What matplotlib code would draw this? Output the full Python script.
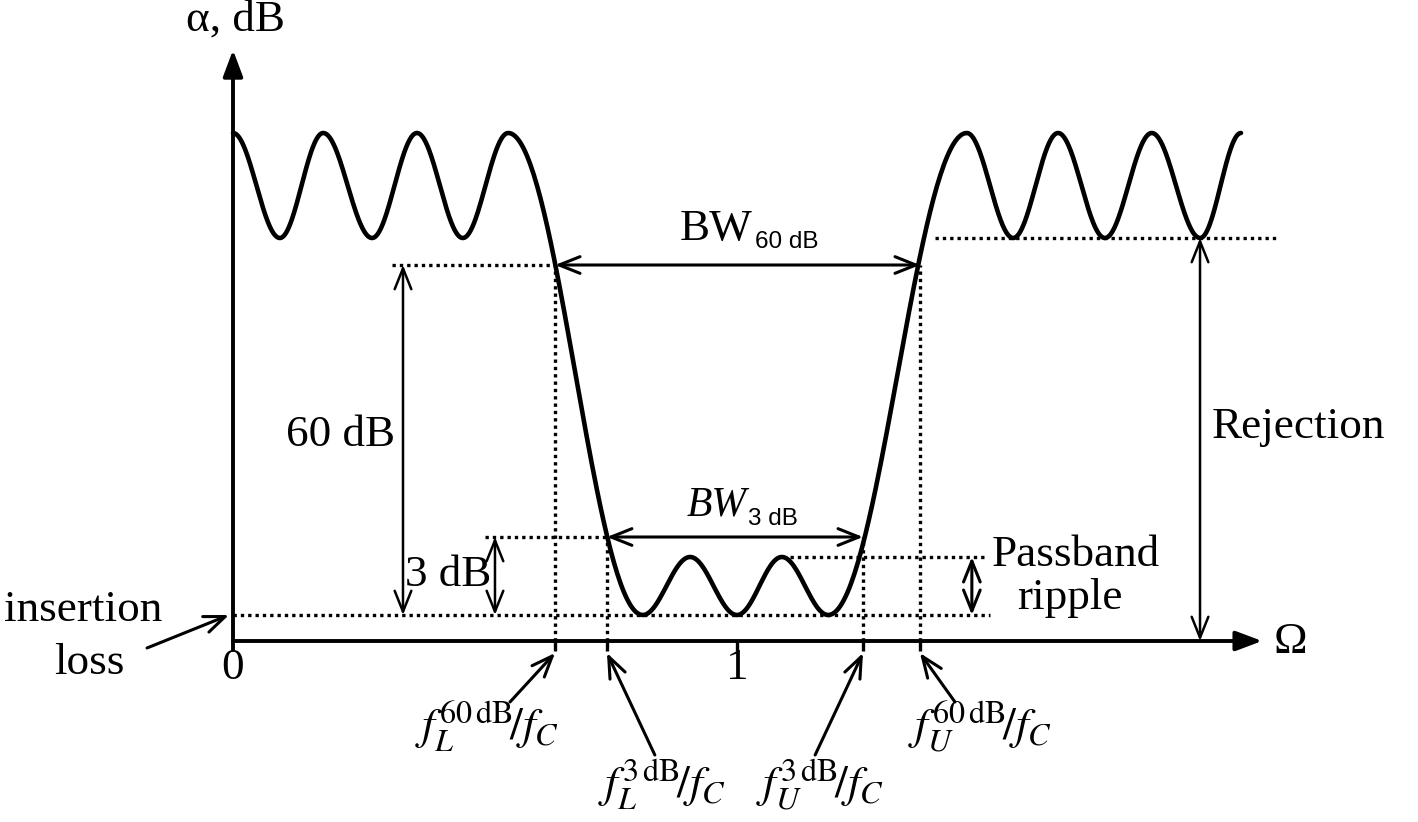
"""
Schematic band-pass filter attenuation response with its bandwidth annotations.
"""

import matplotlib
matplotlib.use("Agg")
import matplotlib.pyplot as plt
import numpy as np

# Extrema of the attenuation curve (Omega = f/fc, alpha in schematic units)
EXT_OMEGA = [0.0, 0.093, 0.179, 0.276, 0.365, 0.456, 0.546,
             0.813, 0.907, 1.0, 1.089, 1.181,
             1.456, 1.548, 1.637, 1.730, 1.823, 1.919, 2.0]
EXT_ALPHA = [50.8, 40.3, 50.8, 40.3, 50.8, 40.3, 50.8,
             2.6, 8.4, 2.6, 8.4, 2.6,
             50.8, 40.3, 50.8, 40.3, 50.8, 40.3, 50.8]

# Characteristic levels
IL = 2.6            # insertion loss
RIPPLE_TOP = 8.4
LVL_3DB = 10.4
LVL_60DB = 37.6
REJ_MIN = 40.3

# Characteristic frequencies
F_L60 = 0.639
F_L3 = 0.742
F_U3 = 1.250
F_U60 = 1.363
TICKS = [F_L60, F_L3, 1.0, F_U3, F_U60]

FREQ_LABELS = [
    r"$f_L^{\mathrm{60\,dB}}\!/f_C$",
    r"$f_L^{\mathrm{3\,dB}}\!/f_C$",
    r"$f_U^{\mathrm{3\,dB}}\!/f_C$",
    r"$f_U^{\mathrm{60\,dB}}\!/f_C$",
]

FS = 32.5
SANS = ["Liberation Sans", "DejaVu Sans"]
DOT = dict(color="black", lw=2.4, linestyle=(0, (1.0, 1.2)))
DIM = "<->,head_length=0.75,head_width=0.3"
ONE = "->,head_length=0.75,head_width=0.3"


def curve(xs, ys, n=80):
    """
    Smooth curve passing through the extrema with zero slope at each one.
    """
    px, py = [], []
    for x0, y0, x1, y1 in zip(xs, ys, xs[1:], ys[1:]):
        t = np.linspace(0, 1, n)
        px.append(x0 + (x1 - x0) * t)
        py.append(y0 + (y1 - y0) * (1 - np.cos(np.pi * t)) / 2)
    return np.concatenate(px), np.concatenate(py)


def arrow(ax, start, end, style, lw=1.8):
    ax.annotate("", xy=end, xytext=start,
                arrowprops=dict(arrowstyle=style, color="black", lw=lw,
                                shrinkA=0, shrinkB=0, mutation_scale=20))


def main() -> None:
    plt.rcParams.update({
        "font.family": ["Liberation Serif", "DejaVu Serif"],
        "mathtext.fontset": "stix",
        "font.size": FS,
    })
    fig = plt.figure(figsize=(14.18, 8.22), dpi=100)
    ax = fig.add_axes([0, 0, 1, 1])
    ax.set_xlim(-0.4623, 2.3512)
    ax.set_ylim(-18.1, 64.1)
    ax.axis("off")

    # Axes with arrows
    arrow(ax, (0, -0.9), (0, 59.1), "-|>,head_length=0.8,head_width=0.3", lw=2.8)
    arrow(ax, (0, 0), (2.042, 0), "-|>,head_length=0.8,head_width=0.3", lw=2.8)
    ax.vlines(TICKS, -1.0, 0, color="black", lw=2.4)

    # Attenuation curve
    x, y = curve(EXT_OMEGA, EXT_ALPHA)
    ax.plot(x, y, color="black", lw=3.3, solid_capstyle="round", zorder=3)

    # Dotted guides
    ax.hlines(IL, 0, 1.502, **DOT)
    ax.hlines(LVL_60DB, 0.3155, F_L60, **DOT)
    ax.hlines(LVL_3DB, 0.500, F_L3, **DOT)
    ax.hlines(RIPPLE_TOP, 1.105, 1.496, **DOT)
    ax.hlines(REJ_MIN, 1.393, 2.071, **DOT)
    ax.vlines([F_L60, F_U60], 0, LVL_60DB, **DOT)
    ax.vlines([F_L3, F_U3], 0, LVL_3DB, **DOT)

    # Dimension arrows
    arrow(ax, (0.3373, LVL_60DB), (0.3373, IL), DIM)
    arrow(ax, (0.5198, LVL_3DB), (0.5198, IL), DIM)
    arrow(ax, (F_L60, LVL_60DB), (F_U60, LVL_60DB), DIM, lw=2.2)
    arrow(ax, (F_L3, LVL_3DB), (F_U3, LVL_3DB), DIM, lw=2.2)
    arrow(ax, (1.466, RIPPLE_TOP), (1.466, IL), DIM, lw=2.2)
    arrow(ax, (1.9187, REJ_MIN), (1.9187, 0), DIM)

    # Bandwidth labels: serif "BW" with a small sans subscript
    ax.text(1.030, 40.1, "BW", ha="right", va="baseline", fontsize=32.5)
    ax.text(1.036, 39.3, "60 dB", ha="left", va="baseline", fontsize=17.5, family=SANS)
    ax.text(1.020, 12.6, "BW", ha="right", va="baseline", fontsize=30, style="italic")
    ax.text(1.022, 11.6, "3 dB", ha="left", va="baseline", fontsize=17.5, family=SANS)

    # Text labels
    ax.text(0.004, 62.1, "α, dB", ha="center", va="center")
    ax.text(2.099, -0.1, "Ω", ha="center", va="center")
    ax.text(0, -2.7, "0", ha="center", va="center")
    ax.text(1.0, -2.7, "1", ha="center", va="center")
    ax.text(0.3214, 20.6, "60 dB", ha="right", va="center")
    ax.text(0.4266, 6.6, "3 dB", ha="center", va="center")
    ax.text(1.506, 8.6, "Passband", ha="left", va="center")
    ax.text(1.661, 4.3, "ripple", ha="center", va="center")
    ax.text(1.9425, 21.4, "Rejection", ha="left", va="center")
    ax.text(-0.2976, 3.1, "insertion", ha="center", va="center")
    ax.text(-0.2857, -2.2, "loss", ha="center", va="center")
    arrow(ax, (-0.1706, -0.7), (-0.008, 2.6), ONE, lw=2.2)

    # Characteristic frequency labels with pointers
    label_pos = [(0.504, -8.6), (0.851, -14.4), (1.165, -14.4), (1.482, -8.6)]
    tails = [(0.5496, -6.1), (0.837, -11.4), (1.155, -11.4), (1.4325, -6.1)]
    for f, lab, pos, tail in zip([F_L60, F_L3, F_U3, F_U60], FREQ_LABELS, label_pos, tails):
        arrow(ax, tail, (f, -1.2), ONE, lw=2.2)
        ax.text(*pos, lab, ha="center", va="center", fontsize=33)

    fig.savefig("out.png", dpi=100)


if __name__ == "__main__":
    main()
